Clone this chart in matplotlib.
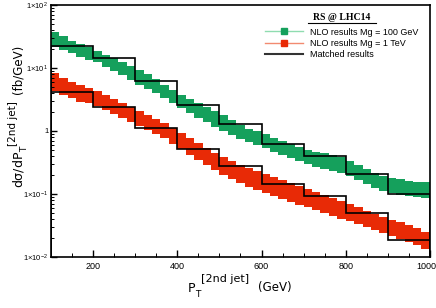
"""RS @ LHC14: pT of the 2nd jet, NLO bands vs matched results"""

import numpy as np
import matplotlib
matplotlib.use("Agg")
import matplotlib.pyplot as plt
from matplotlib.lines import Line2D
from matplotlib.transforms import offset_copy
from matplotlib.ticker import FixedLocator, MultipleLocator, LogLocator, NullFormatter

plt.rcParams["font.family"] = ["Liberation Sans", "DejaVu Sans"]
plt.rcParams["mathtext.default"] = "regular"

# 20 GeV bins for the NLO bands
band_edges = list(range(100, 1001, 20))

green_hi = [37.3, 32.2, 26.8, 24.0, 21.5, 18.6, 16.1, 14.4, 12.4, 10.8,
            9.30, 8.03, 6.69, 5.37, 4.48, 3.73, 3.22, 2.78, 2.40, 2.08,
            1.79, 1.50, 1.24, 1.08, 1.00, 0.896, 0.774, 0.694, 0.622, 0.557,
            0.499, 0.464, 0.447, 0.416, 0.387, 0.334, 0.289, 0.249, 0.215, 0.193,
            0.179, 0.173, 0.161, 0.155, 0.155]
green_lo = [21.5, 19.3, 17.3, 15.0, 13.4, 12.4, 10.4, 8.96, 7.74, 6.45,
            5.37, 4.64, 4.01, 3.34, 2.78, 2.32, 1.93, 1.61, 1.39, 1.16,
            1.00, 0.864, 0.746, 0.669, 0.599, 0.537, 0.464, 0.416, 0.373, 0.334,
            0.299, 0.268, 0.249, 0.232, 0.215, 0.193, 0.167, 0.144, 0.125, 0.112,
            0.104, 0.0964, 0.0930, 0.0896, 0.0864]

red_hi = [8.33, 6.94, 6.00, 5.37, 4.81, 4.31, 3.73, 3.22, 2.78, 2.40,
          2.08, 1.79, 1.55, 1.34, 1.12, 0.929, 0.774, 0.645, 0.537, 0.447,
          0.387, 0.334, 0.289, 0.259, 0.232, 0.208, 0.186, 0.167, 0.150, 0.134,
          0.120, 0.108, 0.0964, 0.0864, 0.0774, 0.0694, 0.0622, 0.0537, 0.0481, 0.0431,
          0.0387, 0.0359, 0.0322, 0.0289, 0.0249]
red_lo = [4.31, 3.73, 3.34, 2.89, 2.78, 2.49, 2.15, 1.86, 1.61, 1.39,
          1.20, 1.04, 0.896, 0.774, 0.622, 0.518, 0.416, 0.347, 0.289, 0.240,
          0.200, 0.173, 0.150, 0.129, 0.116, 0.104, 0.0930, 0.0833, 0.0746, 0.0669,
          0.0622, 0.0557, 0.0499, 0.0447, 0.0401, 0.0373, 0.0334, 0.0299, 0.0268, 0.0240,
          0.0215, 0.0193, 0.0173, 0.0155, 0.0134]

# 100 GeV bins for the matched histograms
hist_edges = [100, 200, 300, 400, 500, 600, 700, 800, 900, 1000]
matched_green = [22.3, 14.6, 6.3, 2.59, 1.29, 0.622, 0.401, 0.207, 0.100]
matched_red = [4.2, 2.38, 1.10, 0.518, 0.278, 0.144, 0.093, 0.0494, 0.0186]

y_ticks = [1e-2, 1e-1, 1, 1e1, 1e2]
y_ticklabels = ["1×10$^{-2}$", "1×10$^{-1}$", "1", "1×10$^{1}$", "1×10$^{2}$"]
x_ticks = [200, 400, 600, 800, 1000]

GREEN = "#15a05c"
RED = "#e82a06"
W, H = 436, 308

fig = plt.figure(figsize=(W / 100, H / 100), dpi=100)
ax = fig.add_axes([0.117, 0.166, 0.869, 0.818])

ax.stairs(green_hi, band_edges, baseline=green_lo, fill=True, color=GREEN, lw=0)
ax.stairs(red_hi, band_edges, baseline=red_lo, fill=True, color=RED, lw=0)
ax.stairs(matched_green, hist_edges, color="black", lw=1.2)
ax.stairs(matched_red, hist_edges, color="black", lw=1.2)

ax.set_yscale("log")
ax.set_xlim(100, 1000)
ax.set_ylim(1e-2, 1e2)

ax.yaxis.set_major_locator(FixedLocator(y_ticks))
ax.set_yticklabels(y_ticklabels)
ax.yaxis.set_minor_locator(LogLocator(base=10, subs=np.arange(2, 10)))
ax.yaxis.set_minor_formatter(NullFormatter())
ax.xaxis.set_major_locator(FixedLocator(x_ticks))
ax.xaxis.set_minor_locator(MultipleLocator(50))

ax.tick_params(which="both", direction="in", top=False, right=False)
ax.tick_params(axis="y", which="major", length=4, width=1, labelsize=5.5, pad=2)
ax.tick_params(axis="y", which="minor", length=2, width=0.7)
ax.tick_params(axis="x", which="major", length=5, width=1, labelsize=6.5, pad=4)
ax.tick_params(axis="x", which="minor", length=3, width=0.7)
for sp in ax.spines.values():
    sp.set_linewidth(1.2)

# last x label sits at the right edge, nudge it in a little
last = ax.get_xticklabels()[-1]
last.set_transform(offset_copy(last.get_transform(), fig=fig, x=-4, units="dots"))


def ptext(px, py, s, size, **kw):
    """text placed in picture pixels, origin top-left"""
    fig.text(px / W, 1 - py / H, s, fontsize=size, va="baseline",
             rotation_mode="anchor", family="DejaVu Sans", **kw)


# x label: P_T [2nd jet] (GeV)
ptext(188, 292, "P", 9)
ptext(195.5, 297, "T", 6.5)
ptext(201, 282, "[2nd jet]", 8)
ptext(258, 291, "(GeV)", 8.5)

# y label, rotated
ptext(22, 188, r"d$\sigma$/dP", 9, rotation=90)
ptext(27, 152, "T", 6.5, rotation=90)
ptext(16, 146, "[2nd jet]", 7.5, rotation=90)
ptext(21, 94, "(fb/GeV)", 8.5, rotation=90)

# legend with an underlined serif heading
ax.text(0.768, 0.952, "RS @ LHC14", transform=ax.transAxes, ha="center", va="center",
        fontsize=7, fontweight="bold", family="Liberation Serif")
ax.add_line(Line2D([0.678, 0.858], [0.93, 0.93], transform=ax.transAxes,
                   color="black", lw=0.8))

handles = [
    Line2D([], [], color="#8fdcb0", lw=1, marker="s", markersize=4.5,
           markerfacecolor=GREEN, markeredgecolor=GREEN),
    Line2D([], [], color="#f28a70", lw=1, marker="s", markersize=4.5,
           markerfacecolor=RED, markeredgecolor=RED),
    Line2D([], [], color="#333333", lw=1.5),
]
labels = ["NLO results Mg = 100 GeV", "NLO results Mg = 1 TeV", "Matched results"]
ax.legend(handles, labels, loc="upper right", bbox_to_anchor=(0.985, 0.935),
          frameon=False, fontsize=6.5, handlelength=4.2, handletextpad=0.7,
          labelspacing=0.25, borderaxespad=0.3)

fig.savefig("out.png", dpi=100)
